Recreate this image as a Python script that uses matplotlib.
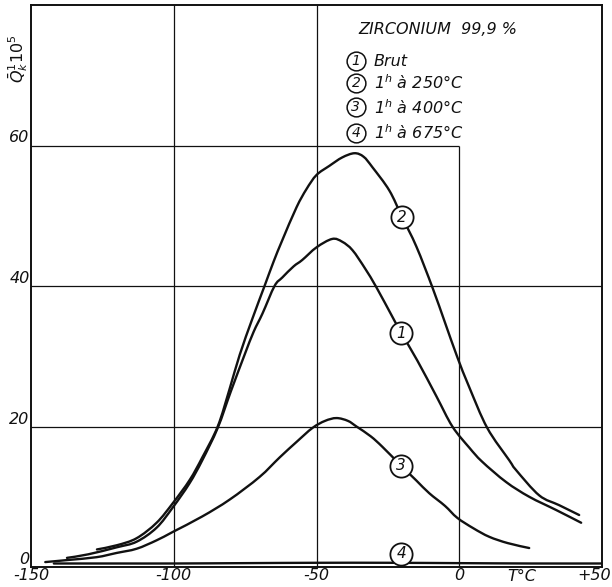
import matplotlib
matplotlib.use("Agg")
import matplotlib.pyplot as plt
from matplotlib.path import Path
from matplotlib.patches import PathPatch

plt.rcParams['font.family'] = ['DejaVu Sans']
plt.rcParams['mathtext.default'] = 'it'

# ---- data ----
T1 = [-137.4, -130, -120, -113, -106, -100.3, -94.5, -90, -84.6, -80, -75.2, -72, -68.9,
      -64.7, -62, -58, -55, -50, -44.5, -41, -37.4, -33, -29, -23.4, -20.3, -14.7, -8,
      -2.4, 3.5, 8, 16.4, 24.5, 34, 42.7]
V1 = [1.3, 1.8, 2.8, 3.6, 5.6, 8.5, 11.9, 15.2, 19.8, 25.0, 30.2, 33.5, 36.1,
      40.0, 41.2, 42.8, 43.7, 45.5, 46.7, 46.3, 45.1, 42.5, 39.8, 35.6, 33.3, 29.4, 24.3,
      20.0, 17.0, 15.0, 12.1, 10.0, 8.1, 6.3]

T2 = [-126.9, -119.9, -113, -106, -100.3, -94.4, -90, -84.6, -80.4, -76.9, -72.5, -68.2,
      -65, -62, -57, -53.5, -50, -45.5, -41, -36.7, -33.5, -30.4, -24.5, -20, -15, -9.4,
      -5, -0.7, 3.5, 9.8, 17.5, 19.9, 28, 35, 42]
V2 = [2.5, 3.1, 4.1, 6.3, 9.1, 12.4, 15.6, 20.0, 25.4, 30.2, 35.3, 40.0,
      43.5, 46.5, 51.2, 53.8, 55.8, 57.1, 58.3, 58.9, 58.4, 56.9, 53.6, 49.8, 45.6, 39.8,
      34.8, 29.9, 25.6, 19.8, 15.2, 13.8, 10.2, 8.8, 7.4]

T3 = [-145, -137, -127, -120, -113, -106, -100.3, -90, -80.4, -70, -62.9, -57, -51.4,
      -47, -43, -39, -36, -31, -26.9, -20.3, -15, -10.5, -5, -0.7, 5, 10.5, 17, 24.5]
V3 = [0.7, 1.0, 1.4, 2.0, 2.6, 3.8, 5.0, 7.2, 9.6, 12.8, 15.6, 17.8, 19.8,
      20.8, 21.2, 20.8, 20.0, 18.6, 17.1, 14.4, 12.3, 10.5, 8.7, 7.0, 5.5, 4.3, 3.4, 2.7]

T4 = [-142, -120, -100, -75, -50, -25, 0, 25, 50]
V4 = [0.5, 0.5, 0.5, 0.55, 0.6, 0.6, 0.55, 0.5, 0.5]

curve_ids = ['1', '2', '3', '4']
label_T = [-20.3, -20.0, -20.3, -20.3]
label_V = [33.3, 49.8, 14.4, 1.9]

legend_title = 'ZIRCONIUM  99,9 %'
legend_texts = ['Brut', r'1$^{h}$ à 250°C', r'1$^{h}$ à 400°C', r'1$^{h}$ à 675°C']

x_ticks = [-150, -100, -50, 0]
x_ticklabels = ['-150', '-100', '-50', '0']
y_ticks = [0, 20, 40, 60]
y_ticklabels = ['0', '20', '40', '60']


def smooth_path(xs, ys):
    """Catmull-Rom curve through the read points, drawn as cubic Bezier segments."""
    pts = list(zip(xs, ys))
    verts = [pts[0]]
    codes = [Path.MOVETO]
    n = len(pts)
    for i in range(n - 1):
        p0 = pts[i - 1] if i > 0 else pts[i]
        p1 = pts[i]
        p2 = pts[i + 1]
        p3 = pts[i + 2] if i + 2 < n else pts[i + 1]
        c1 = (p1[0] + (p2[0] - p0[0]) / 6.0, p1[1] + (p2[1] - p0[1]) / 6.0)
        c2 = (p2[0] - (p3[0] - p1[0]) / 6.0, p2[1] - (p3[1] - p1[1]) / 6.0)
        verts += [c1, c2, p2]
        codes += [Path.CURVE4] * 3
    return Path(verts, codes)


# ---- figure ----
fig = plt.figure(figsize=(6.12, 5.87), dpi=100)
ax = fig.add_axes([31 / 612, 20 / 587, 571 / 612, 562 / 587])
ax.set_xlim(-150, 50)
ax.set_ylim(0, 80)

ink = '#111111'
for s in ax.spines.values():
    s.set_linewidth(1.4)
    s.set_color(ink)

# grid (partial lines as in the original drawing)
gl = dict(color=ink, lw=0.9, zorder=1)
ax.axhline(20, **gl)
ax.axhline(40, **gl)
ax.hlines(60, -150, 0, **gl)
ax.axvline(-100, **gl)
ax.axvline(-50, **gl)
ax.vlines(0, 0, 60, **gl)

lw = 1.7
for T, V in [(T1, V1), (T2, V2), (T3, V3), (T4, V4)]:
    ax.add_patch(PathPatch(smooth_path(T, V), facecolor='none', edgecolor=ink, lw=lw,
                           zorder=3, capstyle='round'))

for cid, tx, vy in zip(curve_ids, label_T, label_V):
    ax.plot([tx], [vy], marker='o', ms=16, mfc='white', mec=ink, mew=1.3, zorder=5)
    ax.text(tx, vy, cid, ha='center', va='center', fontsize=11, style='italic',
            color=ink, zorder=6)

# ticks
ax.set_xticks(x_ticks)
ax.set_xticklabels(x_ticklabels, fontsize=11.5, style='italic', color=ink)
ax.set_yticks(y_ticks)
ax.set_yticklabels(y_ticklabels, fontsize=11.5, style='italic', color=ink)
ax.tick_params(axis='both', length=0)
ax.tick_params(axis='x', pad=1)
ax.tick_params(axis='y', pad=1)
for t in ax.get_yticklabels():
    t.set_va('bottom')

fig.text(0.999, 20 / 587 - 0.002, '+50', ha='right', va='top', fontsize=11.5,
         style='italic', color=ink)
fig.text(522 / 612, 20 / 587 - 0.004, 'T°C', ha='center', va='top', fontsize=11.5,
         style='italic', color=ink)

# y label
ax.text(-0.022, 0.905, r'$\bar{Q}^{1}_{k}10^{5}$', transform=ax.transAxes, rotation=90,
        ha='center', va='center', fontsize=11.5, color=ink)

# legend block
ax.text(0.573, 0.956, legend_title, transform=ax.transAxes, ha='left', va='center',
        fontsize=11.5, style='italic', color=ink)
leg_y = [0.900, 0.861, 0.818, 0.772]
for cid, txt, yy in zip(curve_ids, legend_texts, leg_y):
    ax.plot([0.569], [yy], transform=ax.transAxes, marker='o', ms=13.5, mfc='white',
            mec=ink, mew=1.1, zorder=5, clip_on=False)
    ax.text(0.569, yy, cid, transform=ax.transAxes, ha='center', va='center',
            fontsize=10, style='italic', color=ink, zorder=6)
    ax.text(0.600, yy, txt, transform=ax.transAxes, ha='left', va='center',
            fontsize=11.5, style='italic', color=ink)

fig.savefig('out.png', dpi=100, facecolor='white')
